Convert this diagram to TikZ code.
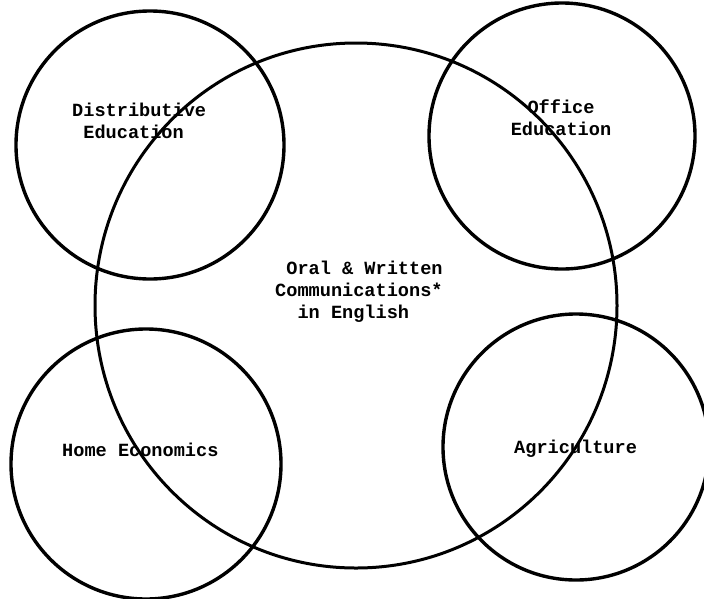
\documentclass[tikz,border=0pt]{standalone}
\usepackage{fontspec}
\setmonofont{Liberation Mono}
\usetikzlibrary{shapes.geometric}
\tikzset{
  ring/.style={circle, draw, line width=3.4pt, inner sep=0pt},
  bigoval/.style={ellipse, draw, line width=3pt, inner sep=0pt},
  lbl/.style={inner sep=0pt, font=\ttfamily\bfseries\fontsize{18.6}{22}\selectfont}
}
\begin{document}
\begin{tikzpicture}[x=1pt,y=-1pt]
\useasboundingbox (0,0) rectangle (704,598);
\fill[white] (0,0) rectangle (704,598);
\begin{scope}
\clip (0,0) rectangle (704,598);
\node[bigoval, minimum width=522pt, minimum height=525pt] (oral) at (356,305.5) {};
\node[ring, minimum size=268pt] (dist) at (150,145) {};
\node[ring, minimum size=266pt] (office) at (562,136) {};
\node[ring, minimum size=270pt] (home) at (146,464) {};
\node[ring, minimum size=266pt] (agri) at (576,447) {};
\end{scope}
\node[lbl, align=left, anchor=base west] (tdist) at (72,138) {Distributive\\\phantom{D}Education};
\node[lbl, align=center, anchor=base] (toffice) at (561,135) {Office\\Education};
\node[lbl, align=left, anchor=base west] (toral) at (275,318) {\phantom{O}Oral \& Written\\Communications*\\\phantom{in}in English};
\node[lbl, anchor=base west] (thome) at (62,456) {Home Economics};
\node[lbl, anchor=base west] (tagri) at (514,453) {Agriculture};
\end{tikzpicture}
\end{document}
